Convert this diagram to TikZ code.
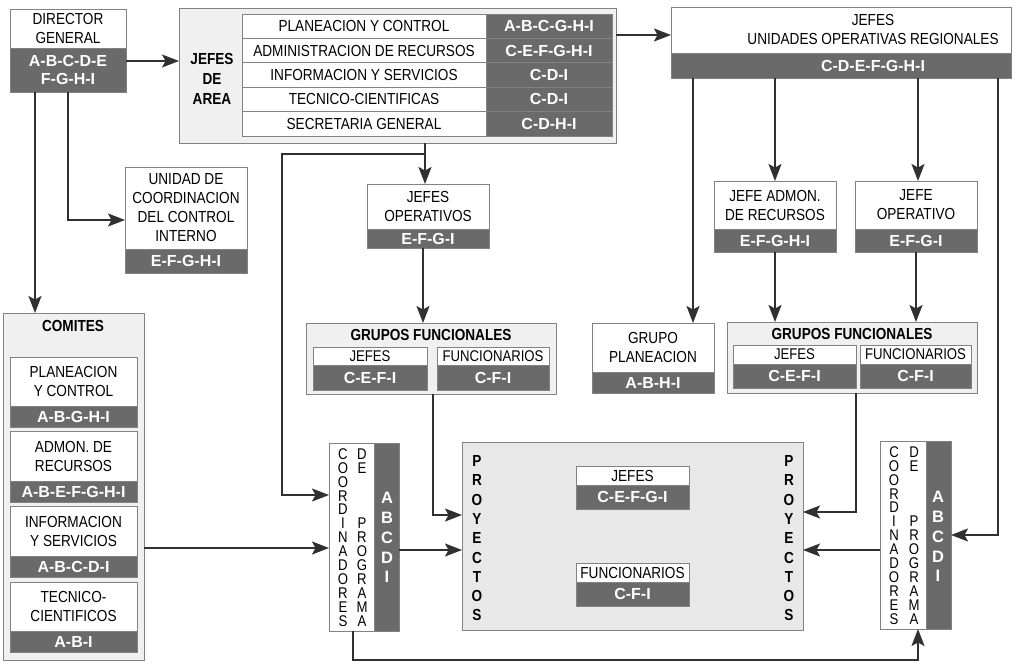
\documentclass[tikz,border=0pt]{standalone}
\usepackage{fontspec}
\setmainfont{Liberation Sans}[FakeStretch=0.85]
\newfontfamily\codefont{Liberation Sans}
\usetikzlibrary{arrows.meta}

\definecolor{framegray}{RGB}{130,130,130}
\definecolor{codegray}{RGB}{106,106,106}
\definecolor{panelgray}{RGB}{240,240,240}
\definecolor{projgray}{RGB}{232,232,232}
\definecolor{linecol}{RGB}{48,48,48}

% a box with a white title part above a grey part listing the codes
\newcommand\catbox[8]{%
  \node[upper, minimum width={#4pt-#2pt}, minimum height={#5pt-#3pt}] (#1) at (#2,#3) {#7};
  \node[codes, minimum width={#4pt-#2pt}, minimum height={#6pt-#5pt}] (#1-c) at (#2,#5) {#8};
}

\begin{document}
\begin{tikzpicture}[x=1pt,y=-1pt,
  frame/.style={draw=framegray, line width=0.8pt, inner sep=0pt, outer sep=0pt, anchor=north west},
  upper/.style={frame, fill=white, align=center, font=\fontsize{16}{19}\selectfont},
  codes/.style={frame, fill=codegray, text=white, align=center, font=\codefont\bfseries\fontsize{16}{18}\selectfont},
  panel/.style={frame, fill=panelgray},
  head/.style={font=\bfseries\fontsize{16}{20}\selectfont, align=center},
  letter/.style={font=\fontsize{15.5}{15}\selectfont, inner sep=0pt},
  pletter/.style={font=\bfseries\fontsize{16}{16}\selectfont, inner sep=0pt},
  cletter/.style={font=\codefont\bfseries\fontsize{16.5}{16}\selectfont, text=white, inner sep=0pt},
  conn/.style={draw=linecol, line width=1.5pt},
  arr/.style={conn, -{Stealth[length=17pt,width=13pt,inset=3.5pt]}}
]
\useasboundingbox (0,0) rectangle (1016,668);

% ---------- Director general ----------
\catbox{dg}{10}{9}{126}{48}{92}{DIRECTOR\\GENERAL}{A-B-C-D-E\\F-G-H-I}

% ---------- Jefes de area ----------
\node[panel, minimum width=437pt, minimum height=135pt] (ja) at (179,8) {};
\node[head] (jatitle) at (212,79) {JEFES\\DE\\AREA};
\foreach [count=\i from 0] \lab/\cod in {PLANEACION Y CONTROL/A-B-C-G-H-I,
    ADMINISTRACION DE RECURSOS/C-E-F-G-H-I, INFORMACION Y SERVICIOS/C-D-I,
    TECNICO-CIENTIFICAS/C-D-I, SECRETARIA GENERAL/C-D-H-I} {
  \node[upper, minimum width=244pt, minimum height=24.4pt] (ja-l\i) at (242,14+\i*24.4) {\lab};
  \node[codes, minimum width=126pt, minimum height=24.4pt] (ja-c\i) at (486,14+\i*24.4) {\cod};
}

% ---------- Jefes unidades operativas regionales ----------
\catbox{juor}{671}{7}{1011}{53}{78}{}{}
\node[font=\fontsize{16}{19}\selectfont, align=center] (juortitle) at (873,29) {JEFES\\UNIDADES OPERATIVAS REGIONALES};
\node[font=\codefont\bfseries\fontsize{16}{18}\selectfont, text=white] (juorcode) at (873,65.5) {C-D-E-F-G-H-I};

% ---------- second level ----------
\catbox{ucci}{125}{167}{247}{249}{273}{UNIDAD DE\\COORDINACION\\DEL CONTROL\\INTERNO}{E-F-G-H-I}
\catbox{jo}{367}{184}{489}{229}{248}{JEFES\\OPERATIVOS}{E-F-G-I}
\catbox{jar}{714}{181}{836}{229}{252}{JEFE ADMON.\\DE RECURSOS}{E-F-G-H-I}
\catbox{jop}{855}{181}{977}{229}{252}{JEFE\\OPERATIVO}{E-F-G-I}
\catbox{gp}{592}{323}{714}{372}{393}{GRUPO\\PLANEACION}{A-B-H-I}

% ---------- grupos funcionales ----------
\begin{scope}[upper/.append style={font=\fontsize{15.5}{18}\selectfont}]
\node[panel, minimum width=250pt, minimum height=71pt] (gf1) at (306,323) {};
\node[head] (gf1title) at (431,335) {GRUPOS FUNCIONALES};
\catbox{gf1j}{313}{347}{427}{365}{390}{JEFES}{C-E-F-I}
\catbox{gf1f}{437}{347}{549}{365}{390}{FUNCIONARIOS}{C-F-I}

\node[panel, minimum width=250pt, minimum height=71pt] (gf2) at (727,322) {};
\node[head] (gf2title) at (852,334) {GRUPOS FUNCIONALES};
\catbox{gf2j}{733}{345}{856}{364}{388}{JEFES}{C-E-F-I}
\catbox{gf2f}{860}{345}{971}{364}{388}{FUNCIONARIOS}{C-F-I}
\end{scope}

% ---------- comites ----------
\node[panel, minimum width=141pt, minimum height=347pt] (com) at (3,313) {};
\node[head] (comtitle) at (73,326) {COMITES};
\catbox{com1}{10}{357}{137}{406}{427}{PLANEACION\\Y CONTROL}{A-B-G-H-I}
\catbox{com2}{10}{431}{137}{481}{502}{ADMON. DE\\RECURSOS}{A-B-E-F-G-H-I}
\catbox{com3}{10}{506}{137}{556}{577}{INFORMACION\\Y SERVICIOS}{A-B-C-D-I}
\catbox{com4}{10}{582}{137}{631}{652}{TECNICO-\\CIENTIFICOS}{A-B-I}

% ---------- proyectos ----------
\node[frame, fill=projgray, minimum width=341pt, minimum height=188pt] (pr) at (462,442) {};
\catbox{prj}{576}{466}{689}{485}{509}{JEFES}{C-E-F-G-I}
\catbox{prf}{576}{563}{689}{582}{606}{FUNCIONARIOS}{C-F-I}
\foreach [count=\i from 0] \l in {P,R,O,Y,E,C,T,O,S} {
  \node[pletter] at (477,461+\i*19.3) {\l};
  \node[pletter] at (789,461+\i*19.3) {\l};
}

% ---------- coordinadores de programa ----------
\node[frame, fill=white, minimum width=70pt, minimum height=188pt] (cl) at (329,443) {};
\node[frame, fill=codegray, minimum width=25pt, minimum height=188pt] (cl-c) at (374,443) {};
\node[frame, fill=white, minimum width=71pt, minimum height=188pt] (cr) at (880,441) {};
\node[frame, fill=codegray, minimum width=25pt, minimum height=188pt] (cr-c) at (926,441) {};
\foreach [count=\i from 0] \l in {C,O,O,R,D,I,N,A,D,O,R,E,S} {
  \node[letter] at (343,454+\i*13.9) {\l};
  \node[letter] at (894,452+\i*13.9) {\l};
}
\foreach [count=\i from 0] \l in {D,E} {
  \node[letter] at (362,454+\i*13.9) {\l};
  \node[letter] at (914,452+\i*13.9) {\l};
}
\foreach [count=\i from 5] \l in {P,R,O,G,R,A,M,A} {
  \node[letter] at (362,454+\i*13.9) {\l};
  \node[letter] at (914,452+\i*13.9) {\l};
}
\foreach [count=\i from 0] \l in {A,B,C,D,I} {
  \node[cletter] at (387,498+\i*19.8) {\l};
  \node[cletter] at (938,497+\i*19.8) {\l};
}

% ---------- connectors ----------
\coordinate (dgleft) at (35,92);
\coordinate (dgright) at (68,92);
\coordinate (jadown) at (425,143);
\coordinate (jabranch) at (425,154);
\coordinate (ju1) at (693,78);
\coordinate (ju2) at (775,78);
\coordinate (ju3) at (918,78);
\coordinate (ju4) at (998,78);

\draw[arr] ([yshift=-13pt]dg-c.north east) -- ([yshift=-13pt]dg-c.north east -| ja.west);
\draw[arr] (dgleft) -- (dgleft |- com.north);
\draw[arr] (dgright) |- (ucci.west |- 0,220);
\draw[arr] ([yshift=-27pt]ja.north east) -- ([yshift=-27pt]ja.north east -| juor.west);

\draw[arr] (jadown) -- (jadown |- jo.north);
\draw[arr] (jabranch) -| (282,300) |- (cl.west |- 0,495);
\draw[arr] (jo-c.south -| 423,0) -- (423,0 |- gf1.north);
\draw[arr] (gf1.south -| 433,0) |- (pr.west |- 0,515);
\draw[arr] (com.east |- 0,548) -- (cl.west |- 0,548);
\draw[arr] (cl-c.east |- 0,550) -- (pr.west |- 0,550);
\draw[arr] (cl.south -| 353,0) -- (353,660) -| (cr.south -| 918,0);

\draw[arr] (ju1) -- (ju1 |- gp.north);
\draw[arr] (ju2) -- (ju2 |- jar.north);
\draw[arr] (ju3) -- (ju3 |- jop.north);
\draw[arr] (ju4) |- (cr-c.east |- 0,535);
\draw[arr] (jar-c.south -| 775,0) -- (775,0 |- gf2.north);
\draw[arr] (jop-c.south -| 916,0) -- (916,0 |- gf2.north);
\draw[arr] (gf2.south -| 856,0) |- (pr.east |- 0,512);
\draw[arr] (cr.west |- 0,550) -- (pr.east |- 0,550);
\end{tikzpicture}
\end{document}
